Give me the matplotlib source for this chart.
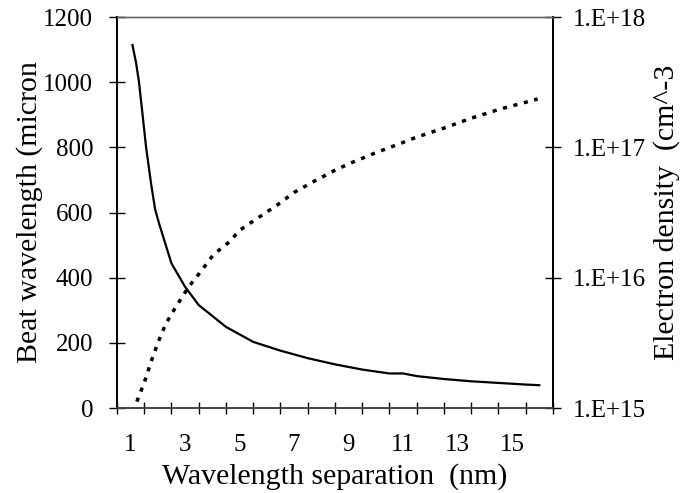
import matplotlib
matplotlib.use("Agg")
import matplotlib.pyplot as plt
from matplotlib.ticker import FixedLocator, NullLocator, FixedFormatter

plt.rcParams['font.family'] = ['Liberation Serif', 'DejaVu Serif']

# Beat wavelength (left axis, micron) vs wavelength separation (nm)
beat_x = [1.07, 1.20, 1.31, 1.57, 1.75, 1.90, 2.05, 2.50, 3.00, 3.50, 4.50,
          5.50, 6.50, 7.50, 8.50, 9.50, 10.50, 11.00, 11.50, 12.50, 13.50,
          14.50, 15.50, 16.00]
beat_y = [1114, 1060, 1000, 800, 690, 610, 565, 444, 372, 316, 249,
          203, 176, 153, 134, 118, 106, 106, 98, 89, 82,
          77, 72, 70]

# Electron density (right axis, cm^-3)
dens_x = [1.23, 1.50, 1.75, 2.02, 2.29, 2.63, 3.12, 3.57, 4.05, 4.64, 4.98,
          5.68, 6.43, 7.01, 7.71, 8.47, 9.06, 10.00, 10.85, 11.46, 12.52,
          13.49, 14.54, 15.51, 15.94]
dens_y = [1.12e15, 1.56e15, 2.26e15, 3.23e15, 4.42e15, 5.82e15, 8.43e15,
          1.11e16, 1.51e16, 1.89e16, 2.29e16, 2.88e16, 3.67e16, 4.52e16,
          5.45e16, 6.62e16, 7.55e16, 9.10e16, 1.06e17, 1.19e17, 1.41e17,
          1.67e17, 1.96e17, 2.22e17, 2.35e17]

x_labels = ["1", "3", "5", "7", "9", "11", "13", "15"]
x_label_pos = [1, 3, 5, 7, 9, 11, 13, 15]
y_left_ticks = [0, 200, 400, 600, 800, 1000, 1200]
y_right_ticks = [1e15, 1e16, 1e17, 1e18]
y_right_labels = ["1.E+15", "1.E+16", "1.E+17", "1.E+18"]

fig = plt.figure(figsize=(6.92, 4.93), dpi=100)
ax = fig.add_axes([0.169, 0.1724, 0.630, 0.7931])
ax2 = ax.twinx()

ax.plot(beat_x, beat_y, color='black', lw=1.6, solid_joinstyle='round')
ax2.plot(dens_x, dens_y, color='black', lw=2.5, linestyle=(0, (1.2, 1.9)))

ax.set_xlim(0.5, 16.5)
ax.set_ylim(0, 1200)
ax2.set_yscale('log')
ax2.set_ylim(1e15, 1e18)

fs_tick = 18
fs_lab = 21.5

# x ticks: tick marks at category boundaries, labels at centers
ax.xaxis.set_major_locator(FixedLocator(x_label_pos))
ax.xaxis.set_major_formatter(FixedFormatter(x_labels))
ax.xaxis.set_minor_locator(FixedLocator([0.5 + i for i in range(17)]))
ax.tick_params(axis='x', which='major', length=0, pad=19, labelsize=fs_tick)
ax.tick_params(axis='x', which='minor', direction='inout', length=9, width=1.0)

ax.set_yticks(y_left_ticks)
ax.set_yticklabels([str(v) for v in y_left_ticks])
ax.tick_params(axis='y', which='major', direction='inout', length=12, width=1.0,
               pad=11, labelsize=fs_tick)

ax2.yaxis.set_major_locator(FixedLocator(y_right_ticks))
ax2.yaxis.set_major_formatter(FixedFormatter(y_right_labels))
ax2.yaxis.set_minor_locator(NullLocator())
ax2.tick_params(axis='y', which='major', direction='inout', length=12, width=1.0,
                pad=8.5, labelsize=fs_tick)

for a in (ax, ax2):
    a.spines['top'].set_color('#666666')
    a.spines['bottom'].set_color('#444444')
    a.spines['top'].set_linewidth(1.0)
    a.spines['bottom'].set_linewidth(1.2)
    a.spines['left'].set_linewidth(1.4)
    a.spines['right'].set_linewidth(1.4)

ax.set_xlabel("Wavelength separation  (nm)", fontsize=fs_lab)
ax.xaxis.set_label_coords(0.5, -0.141)
ax.set_ylabel("Beat wavelength (micron", fontsize=fs_lab)
ax.yaxis.set_label_coords(-0.170, 0.5)
ax2.set_ylabel("Electron density  (cm^-3", fontsize=fs_lab, rotation=90)
ax2.yaxis.set_label_coords(1.229, 0.5)

fig.savefig("out.png", dpi=100)
